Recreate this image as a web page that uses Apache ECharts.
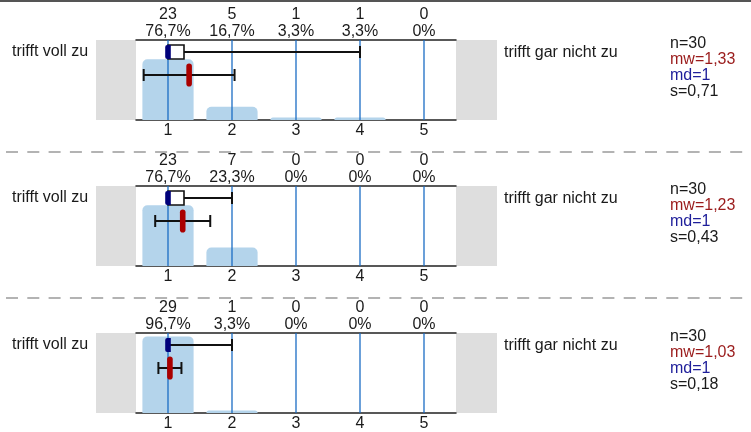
<!DOCTYPE html>
<html>
<head>
<meta charset="utf-8">
<script src="https://cdn.jsdelivr.net/npm/echarts@6/dist/echarts.min.js"></script>
<style>html,body{margin:0;padding:0;background:#fff;}#c{width:751px;height:432px;}</style>
</head>
<body>
<div id="c"></div>
<script>
// ---- data ----
const categories = ['1', '2', '3', '4', '5'];
const scalePoints = [1, 2, 3, 4, 5];
const counts1 = [23, 5, 1, 1, 0];
const counts2 = [23, 7, 0, 0, 0];
const counts3 = [29, 1, 0, 0, 0];
const percents1 = [76.7, 16.7, 3.3, 3.3, 0];
const percents2 = [76.7, 23.3, 0, 0, 0];
const percents3 = [96.7, 3.3, 0, 0, 0];
const nValues = [30, 30, 30];
const means = [1.33, 1.23, 1.03];
const sds = [0.71, 0.43, 0.18];
const medians = [1, 1, 1];
const q1s = [1, 1, 1];
const q3s = [1.25, 1.25, 1];
const mins = [1, 1, 1];
const maxs = [4, 2, 2];
const leftLabels = ['trifft voll zu', 'trifft voll zu', 'trifft voll zu'];
const rightLabels = ['trifft gar nicht zu', 'trifft gar nicht zu', 'trifft gar nicht zu'];

const counts = [counts1, counts2, counts3];
const percents = [percents1, percents2, percents3];

// ---- layout ----
const FONT = '"Liberation Sans", Arial, sans-serif';
const TOPS = [40, 186, 333];
const GL = 136, GW = 320, GH = 80;
const fmtNum = v => String(v).replace('.', ',');
const fmtPct = v => fmtNum(v) + '%';

const grids = [], xAxes = [], yAxes = [], series = [], graphics = [];

TOPS.forEach((top, i) => {
  grids.push({ left: GL, top: top, width: GW, height: GH, containLabel: false });
  xAxes.push({
    type: 'category', gridIndex: i, data: categories, position: 'bottom',
    axisLine: { lineStyle: { color: '#222', width: 1.5 } },
    axisTick: { show: false }, splitLine: { show: false },
    axisLabel: { fontSize: 16, color: '#1a1a1a', margin: 3, fontFamily: FONT }
  });
  xAxes.push({
    type: 'category', gridIndex: i, data: categories, position: 'top',
    axisLine: { lineStyle: { color: '#222', width: 1.5 } },
    axisTick: { show: false }, splitLine: { show: false },
    axisLabel: {
      fontSize: 16, color: '#1a1a1a', margin: 0, lineHeight: 17, fontFamily: FONT,
      formatter: (v, idx) => counts[i][idx] + '\n' + fmtPct(percents[i][idx])
    }
  });
  xAxes.push({ type: 'value', gridIndex: i, min: 0.5, max: 5.5, show: false });
  yAxes.push({ type: 'value', gridIndex: i, min: 0, max: 101, show: false });

  series.push({
    type: 'bar', xAxisIndex: 3 * i, yAxisIndex: i, data: percents[i],
    barWidth: '80%', z: 2, silent: true,
    itemStyle: { color: '#b4d4eb', borderRadius: [5, 5, 0, 0] }
  });
  series.push({
    type: 'custom', xAxisIndex: 3 * i + 2, yAxisIndex: i, z: 3, silent: true,
    data: scalePoints.map(v => [v]),
    renderItem: (params, api) => {
      const cs = params.coordSys;
      const x = api.coord([api.value(0), 0])[0];
      return { type: 'line', shape: { x1: x, y1: cs.y, x2: x, y2: cs.y + cs.height },
        style: { stroke: '#1b6cc4', lineWidth: 1.3 } };
    }
  });
  series.push({
    type: 'custom', xAxisIndex: 3 * i + 2, yAxisIndex: i, z: 4, silent: true,
    data: [[mins[i], q1s[i], medians[i], q3s[i], maxs[i], means[i], sds[i]]],
    renderItem: (params, api) => {
      const cs = params.coordSys;
      const X = v => api.coord([v, 0])[0];
      const yb = cs.y + 12, ym = cs.y + 35;
      const mn = api.value(0), q1 = api.value(1), md = api.value(2), q3 = api.value(3), mx = api.value(4);
      const mean = api.value(5), sd = api.value(6);
      const ch = [];
      const bh = 14, cap = 12;
      const ls = { stroke: '#111', lineWidth: 2 };
      if (mx > q3) {
        ch.push({ type: 'line', shape: { x1: X(q3), y1: yb, x2: X(mx), y2: yb }, style: ls });
        ch.push({ type: 'line', shape: { x1: X(mx), y1: yb - cap / 2, x2: X(mx), y2: yb + cap / 2 }, style: ls });
      }
      if (mn < q1) {
        ch.push({ type: 'line', shape: { x1: X(mn), y1: yb, x2: X(q1), y2: yb }, style: ls });
        ch.push({ type: 'line', shape: { x1: X(mn), y1: yb - cap / 2, x2: X(mn), y2: yb + cap / 2 }, style: ls });
      }
      if (q3 > q1) {
        ch.push({ type: 'rect', shape: { x: X(q1), y: yb - bh / 2, width: X(q3) - X(q1), height: bh },
          style: { fill: '#fff', stroke: '#111', lineWidth: 1.6 } });
      }
      ch.push({ type: 'rect', shape: { x: X(md) - 2.8, y: yb - bh / 2, width: 5.6, height: bh, r: [2, 0, 0, 2] },
        style: { fill: '#00007a' } });
      ch.push({ type: 'line', shape: { x1: X(mean - sd), y1: ym, x2: X(mean + sd), y2: ym }, style: ls });
      ch.push({ type: 'line', shape: { x1: X(mean - sd), y1: ym - cap / 2, x2: X(mean - sd), y2: ym + cap / 2 }, style: ls });
      ch.push({ type: 'line', shape: { x1: X(mean + sd), y1: ym - cap / 2, x2: X(mean + sd), y2: ym + cap / 2 }, style: ls });
      ch.push({ type: 'rect', shape: { x: X(mean) - 2.8, y: ym - 11.5, width: 5.6, height: 23, r: 2.8 },
        style: { fill: '#aa0000' } });
      return { type: 'group', children: ch };
    }
  });

  graphics.push({ type: 'rect', left: GL - 40, top: top, shape: { width: 40, height: GH }, style: { fill: '#dedede' }, z: -1 });
  graphics.push({ type: 'rect', left: GL + GW, top: top, shape: { width: 41, height: GH }, style: { fill: '#dedede' }, z: -1 });
  graphics.push({ type: 'text', x: 12, y: top + 12, style: { text: leftLabels[i], font: '16px ' + FONT, fill: '#1a1a1a', textVerticalAlign: 'middle' } });
  graphics.push({ type: 'text', x: 504, y: top + 12.5, style: { text: rightLabels[i], font: '16px ' + FONT, fill: '#1a1a1a', textVerticalAlign: 'middle' } });
  const stats = [
    ['n=' + nValues[i], '#1a1a1a'],
    ['mw=' + fmtNum(means[i].toFixed(2)), '#9a1b1b'],
    ['md=' + fmtNum(medians[i]), '#1e1e9a'],
    ['s=' + fmtNum(sds[i].toFixed(2)), '#1a1a1a']
  ];
  stats.forEach((s, k) => {
    graphics.push({ type: 'text', x: 670, y: top + 4 + k * 16, style: { text: s[0], font: '16px ' + FONT, fill: s[1], textVerticalAlign: 'middle' } });
  });
});

graphics.push({ type: 'line', shape: { x1: 0, y1: 1, x2: 751, y2: 1 }, style: { stroke: '#555', lineWidth: 2 } });
[152, 298].forEach(y => {
  graphics.push({ type: 'line', shape: { x1: 6, y1: y, x2: 751, y2: y }, style: { stroke: '#b3b3b3', lineWidth: 2, lineDash: [12, 9.3] } });
});

const chart = echarts.init(document.getElementById('c'), null, { renderer: 'canvas' });
chart.setOption({
  animation: false,
  textStyle: { fontFamily: FONT },
  grid: grids, xAxis: xAxes, yAxis: yAxes, series: series, graphic: graphics
});
</script>
</body>
</html>
